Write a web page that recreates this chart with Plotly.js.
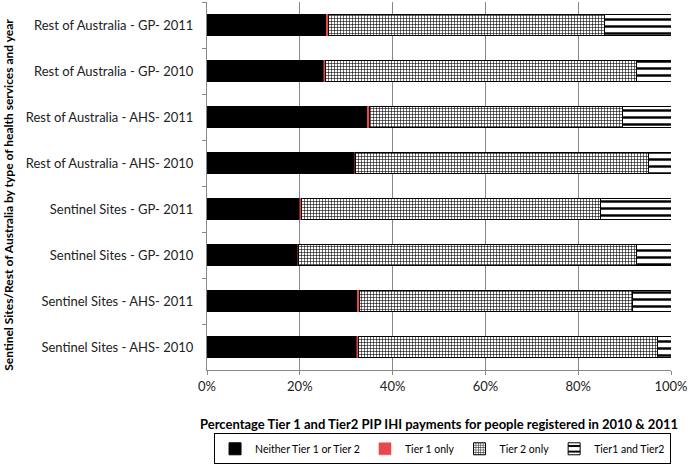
<!DOCTYPE html>
<html>
<head>
<meta charset="utf-8">
<script src="https://cdn.plot.ly/plotly-3.0.1.min.js"></script>
<style>
  html, body { margin: 0; padding: 0; background: #fff; }
  #chart { width: 688px; height: 466px; }
</style>
</head>
<body>
<div id="chart"></div>
<script>
// categories top to bottom
const categorias = [
  "Rest of Australia - GP- 2011",
  "Rest of Australia - GP- 2010",
  "Rest of Australia - AHS- 2011",
  "Rest of Australia - AHS- 2010",
  "Sentinel Sites - GP- 2011",
  "Sentinel Sites - GP- 2010",
  "Sentinel Sites - AHS- 2011",
  "Sentinel Sites - AHS- 2010"
];

const nenhum = [25.7, 25.2, 34.5, 31.8, 20.0, 19.6, 32.4, 32.3];
const tier1 = [0.4, 0.3, 0.5, 0.2, 0.3, 0.2, 0.5, 0.3];
const tier2 = [59.6, 67.1, 54.5, 63.1, 64.4, 72.7, 58.8, 64.5];
const ambos = [14.3, 7.4, 10.5, 4.9, 15.3, 7.5, 8.3, 2.9];

const fonte = "Lato, Open Sans, sans-serif";
const contorno = { color: "#000", width: 1 };

const traces = [
  {
    name: "Neither Tier 1 or Tier 2",
    y: categorias, x: nenhum, type: "bar", orientation: "h",
    marker: { color: "#000", line: contorno }
  },
  {
    name: "Tier 1 only",
    y: categorias, x: tier1, type: "bar", orientation: "h",
    marker: { color: "#e8474b", line: { color: "#e8474b", width: 0.5 } }
  },
  {
    name: "Tier 2 only",
    y: categorias, x: tier2, type: "bar", orientation: "h",
    marker: {
      color: "#fff", line: contorno,
      pattern: { shape: "+", fgcolor: "#000", bgcolor: "#fff", size: 3, solidity: 0.35 }
    }
  },
  {
    name: "Tier1 and Tier2",
    y: categorias, x: ambos, type: "bar", orientation: "h",
    marker: {
      color: "#fff", line: contorno,
      pattern: { shape: "-", fgcolor: "#000", bgcolor: "#fff", size: 7, solidity: 0.35 }
    }
  }
];

const layout = {
  width: 688, height: 466,
  margin: { l: 207, r: 17, t: 2, b: 92 },
  barmode: "stack",
  bargap: 0.54,
  paper_bgcolor: "#fff", plot_bgcolor: "#fff",
  font: { family: fonte, size: 13, color: "#222" },
  xaxis: {
    range: [0, 100],
    dtick: 20,
    ticksuffix: "%",
    showgrid: true, gridcolor: "#888", gridwidth: 1,
    zeroline: false,
    showline: true, linecolor: "#888",
    ticks: "outside", ticklen: 4, tickcolor: "#888",
    tickfont: { size: 13, family: fonte },
    automargin: false,
    title: {
      text: "Percentage Tier 1 and Tier2 PIP IHI payments for people registered in 2010 & 2011",
      font: { size: 13, family: fonte, weight: "bold", color: "#000" },
      standoff: 27
    }
  },
  yaxis: {
    autorange: "reversed",
    showline: true, linecolor: "#888",
    ticks: "outside", tickson: "boundaries", ticklen: 4, tickcolor: "#888",
    tickfont: { size: 13, family: fonte },
    ticksuffix: "   ",
    automargin: false
  },
  // y axis title as annotation so it can sit a bit lower, like the original
  annotations: [{
    text: "Sentinel Sites/Rest of Australia by type of health services and year",
    textangle: -90,
    xref: "paper", yref: "paper",
    x: -0.427, y: 0.476,
    xanchor: "center", yanchor: "middle",
    showarrow: false,
    font: { size: 12, family: fonte, weight: "bold", color: "#000" }
  }],
  showlegend: true,
  legend: {
    orientation: "h",
    traceorder: "normal",
    x: 1.0001, xanchor: "right",
    y: -0.172, yanchor: "top",
    bordercolor: "#000", borderwidth: 1,
    font: { size: 10.5, family: fonte, color: "#000" },
    itemwidth: 30
  }
};

Plotly.newPlot("chart", traces, layout, { displayModeBar: false });
</script>
</body>
</html>
